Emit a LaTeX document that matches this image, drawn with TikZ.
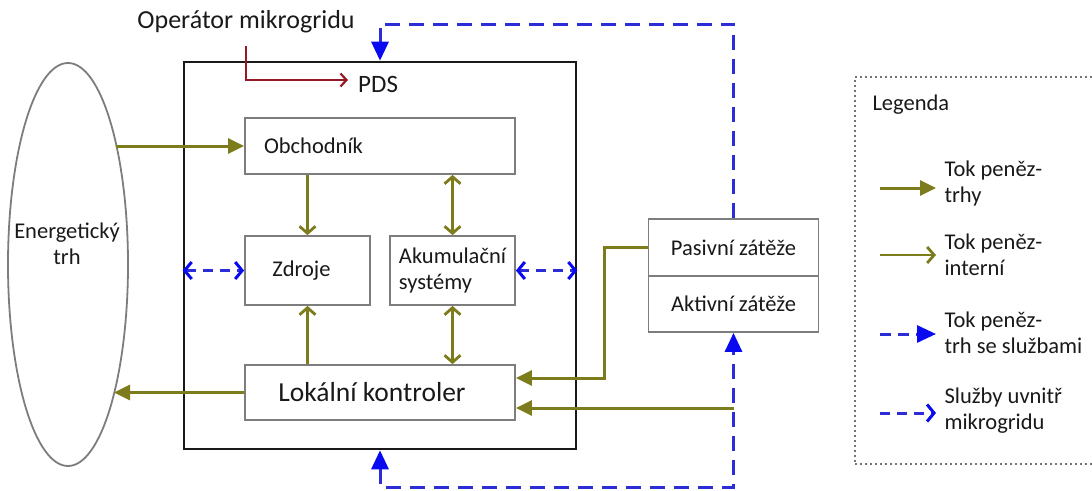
\documentclass[tikz,border=0pt]{standalone}
\usepackage{fontspec}
\setmainfont{Carlito}
\usetikzlibrary{arrows.meta,shapes.geometric}

\definecolor{olivefl}{RGB}{124,124,28}
\definecolor{dashblue}{RGB}{45,45,215}
\definecolor{tipblue}{RGB}{10,10,240}
\definecolor{pdsred}{RGB}{150,25,40}
\definecolor{boxgray}{RGB}{125,125,125}
\definecolor{framegray}{RGB}{115,115,115}
\definecolor{ink}{RGB}{25,25,25}

\begin{document}
\begin{tikzpicture}[x=1pt,y=-1pt,
  every node/.style={text=ink, font=\fontsize{22.5}{26}\selectfont},
  unit/.style={draw=boxgray, line width=1.8pt, fill=white, inner sep=0pt},
  grid/.style={draw=ink, line width=2.6pt, inner sep=0pt},
  money/.style={color=olivefl, line width=3pt, -{Triangle[length=16pt,width=15pt]}},
  internal/.style={color=olivefl, line width=2.8pt, -{Straight Barb[length=7pt,width=16pt]}},
  internalboth/.style={color=olivefl, line width=2.8pt, {Straight Barb[length=7pt,width=16pt]}-{Straight Barb[length=7pt,width=16pt]}},
  svc/.style={color=dashblue, line width=3pt, dash pattern=on 15pt off 9pt},
  svctip/.style={svc, -{Triangle[length=19pt,width=17pt,color=tipblue]}},
  svcboth/.style={svc, {Triangle[length=19pt,width=17pt,color=tipblue]}-{Triangle[length=19pt,width=17pt,color=tipblue]}},
  inner/.style={color=dashblue, line width=3pt, dash pattern=on 10pt off 7pt},
  innerboth/.style={inner, {Straight Barb[length=7pt,width=17pt,color=tipblue]}-{Straight Barb[length=7pt,width=17pt,color=tipblue]}},
  innertip/.style={inner, -{Straight Barb[length=7pt,width=17pt,color=tipblue]}},
  legframe/.style={draw=framegray, line width=2.4pt, dash pattern=on 2pt off 3pt, inner sep=0pt}
]
\useasboundingbox (0,0) rectangle (1092,490);

% energy market
\node[ellipse, draw=boxgray, line width=1.8pt, minimum width=120pt, minimum height=403pt, inner sep=0pt] (mkt) at (68,264.5) {};
\node[align=center] (mkttext) at (67,244) {Energetický\\trh};

% microgrid frame and its units
\node[grid, minimum width=392pt, minimum height=387pt] (mg) at (380,255.5) {};
\node[unit, minimum width=270pt, minimum height=56pt, text width=232pt, inner xsep=19pt, align=left] (obch) at (380,146) {Obchodník};
\node[unit, minimum width=125pt, minimum height=69pt] (zdr) at (307.5,270.5) {\hspace*{-12pt}Zdroje};
\node[unit, minimum width=125pt, minimum height=69pt, align=left] (aku) at (452.5,270.5) {Akumulační\\systémy};
\node[unit, minimum width=270pt, minimum height=55pt, font=\fontsize{27.5}{31}\selectfont] (lok) at (380,392.5) {\hspace*{-16pt}Lokální kontroler};

% loads
\node[unit, minimum width=170pt, minimum height=57pt] (pas) at (733.5,247.5) {Pasivní zátěže};
\node[unit, minimum width=170pt, minimum height=56pt] (akt) at (733.5,304) {Aktivní zátěže};

% operator and PDS
\node[font=\fontsize{26}{30}\selectfont] (oper) at (246,22) {Operátor mikrogridu};
\node[anchor=west, inner sep=1pt, font=\fontsize{25}{29}\selectfont] (pds) at (357,84) {PDS};
\coordinate (r0) at (246,46);
\coordinate (r1) at (246,80);
\draw[pdsred, line width=2.2pt, shorten >=9pt, -{Straight Barb[length=6pt,width=13pt]}] (r0) -- (r1) -- (pds.west |- r1);

% money flows (olive)
\coordinate (e1) at (116,146);
\coordinate (e2) at (114,392.5);
\draw[money] (e1) -- (obch.west);
\draw[money] (lok.west) -- (e2);
\draw[internal] (obch.south -| zdr) -- (zdr.north);
\draw[internalboth] (obch.south -| aku) -- (aku.north);
\draw[internal] (lok.north -| zdr) -- (zdr.south);
\draw[internalboth] (lok.north -| aku) -- (aku.south);
\coordinate (pbend) at (604,378);
\draw[money] (pas.west) -| (pbend) -- (lok.east |- pbend);
\coordinate (abend) at (733.5,408);
\draw[money] (abend) -- (lok.east |- abend);

% services (blue dashed)
\coordinate (topturn) at (380,24);
\draw[svctip] (pas.north) |- (topturn) -- (mg.north);
\coordinate (botturn) at (380,487);
\draw[svcboth] (mg.south) -- (botturn) -| (akt.south);
\draw[innerboth] (mg.west |- zdr) -- (zdr.west);
\draw[innerboth] (aku.east) -- (mg.east |- aku);

% legend
\node[legframe, minimum width=250pt, minimum height=387pt, anchor=north west] (legend) at (854,76) {};
\node[anchor=west] (legtitle) at (869,105) {Legenda};
\coordinate (l1a) at (880,188); \coordinate (l1b) at (936,188);
\coordinate (l2a) at (880,255); \coordinate (l2b) at (936,255);
\coordinate (l3a) at (880,334); \coordinate (l3b) at (936,334);
\coordinate (l4a) at (880,413); \coordinate (l4b) at (936,413);
\draw[money] (l1a) -- (l1b);
\draw[internal] (l2a) -- (l2b);
\draw[svctip, dash pattern=on 11pt off 7pt] (l3a) -- (l3b);
\draw[innertip] (l4a) -- (l4b);
\node[anchor=west, align=left] (leg1) at (941,183) {Tok peněz-\\trhy};
\node[anchor=west, align=left] (leg2) at (941,255) {Tok peněz-\\interní};
\node[anchor=west, align=left] (leg3) at (941,333) {Tok peněz-\\trh se službami};
\node[anchor=west, align=left] (leg4) at (941,411) {Služby uvnitř\\mikrogridu};
\end{tikzpicture}
\end{document}
